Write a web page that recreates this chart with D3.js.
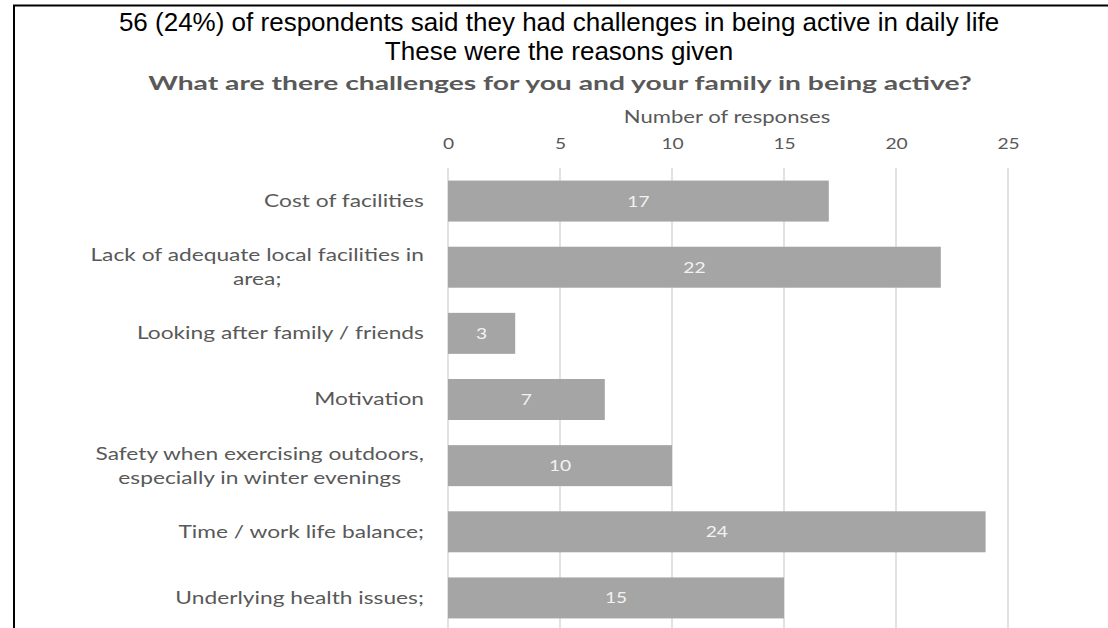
<!DOCTYPE html>
<html><head><meta charset="utf-8">
<script src="https://cdn.jsdelivr.net/npm/d3@7"></script>
<style>body{margin:0;background:#fff}svg{display:block}</style>
</head><body>
<svg id="c" width="1108" height="628"></svg>
<script>
const categories = [
  ["Cost of facilities"],
  ["Lack of adequate local facilities in", "area;"],
  ["Looking after family / friends"],
  ["Motivation"],
  ["Safety when exercising outdoors,", "especially in winter evenings"],
  ["Time / work life balance;"],
  ["Underlying health issues;"]
];
const values = [17, 22, 3, 7, 10, 24, 15];
const tickValues = [0, 5, 10, 15, 20, 25];
const headerLines = ["56 (24%) of respondents said they had challenges in being active in daily life", "These were the reasons given"];
const chartTitle = "What are there challenges for you and your family in being active?";
const axisTitle = "Number of responses";

(function () {
const svg = d3.select("#c");
const W = 1108, H = 628;
const pL = 448, pR = 1008, pT = 168, pB = 631;
const FONT = "Lato, sans-serif";
const x = d3.scaleLinear().domain([0, 25]).range([pL, pR]);
const y = d3.scaleBand().domain(d3.range(categories.length)).range([pT, pB]).paddingInner(0.38).paddingOuter(0.19);

function stretched(parent, tx, ty, sx) {
  return parent.append("g").attr("transform", `translate(${tx},${ty}) scale(${sx},1)`).append("text").attr("x", 0).attr("y", 0);
}

// border
svg.append("line").attr("x1", 13).attr("x2", W).attr("y1", 5.5).attr("y2", 5.5).attr("stroke", "#000").attr("stroke-width", 2);
svg.append("line").attr("x1", 14).attr("x2", 14).attr("y1", 5).attr("y2", H).attr("stroke", "#000").attr("stroke-width", 2);

headerLines.forEach((t, i) => {
  svg.append("text").attr("x", 559).attr("y", 31 + i * 29).attr("text-anchor", "middle")
    .attr("font-family", "Liberation Sans, Arial, sans-serif").attr("font-size", 26).attr("fill", "#000").text(t);
});
stretched(svg, 560, 90, 1.45).attr("text-anchor", "middle")
  .attr("font-family", FONT).attr("font-weight", "bold").attr("font-size", 19.5).attr("fill", "#595959").text(chartTitle);
stretched(svg, 727, 123, 1.3).attr("text-anchor", "middle")
  .attr("font-family", FONT).attr("font-size", 17).attr("fill", "#595959").text(axisTitle);

// grid
svg.append("g").selectAll("line").data(tickValues).join("line")
  .attr("x1", d => x(d)).attr("x2", d => x(d)).attr("y1", pT).attr("y2", H)
  .attr("stroke", "#d9d9d9").attr("stroke-width", 1.5);

// x axis labels
const ax = svg.append("g").attr("transform", `translate(0,${pT})`)
  .call(d3.axisTop(x).tickValues(tickValues).tickSize(0).tickPadding(19));
ax.select(".domain").remove();
ax.selectAll("text").attr("font-family", FONT).attr("font-size", 16).attr("fill", "#595959")
  .attr("transform", "scale(1.2,1)");

// bars
svg.append("g").selectAll("rect").data(values).join("rect")
  .attr("x", x(0)).attr("y", (d, i) => y(i)).attr("width", d => x(d) - x(0)).attr("height", y.bandwidth())
  .attr("fill", "#a5a5a5");

// data labels
const dl = svg.append("g");
values.forEach((v, i) => {
  stretched(dl, (x(0) + x(v)) / 2, y(i) + y.bandwidth() / 2 + 5.5, 1.2)
    .attr("text-anchor", "middle").attr("font-family", FONT).attr("font-size", 16)
    .attr("fill", "#f2f2f2").text(v);
});

// category labels
const cg = svg.append("g");
const SX = 1.3;
categories.forEach((lines, i) => {
  const cy = y(i) + y.bandwidth() / 2;
  const g = cg.append("g");
  const t = g.append("text").attr("text-anchor", "middle").attr("font-family", FONT)
    .attr("font-size", 17.5).attr("fill", "#595959");
  const n = lines.length;
  lines.forEach((l, j) => {
    t.append("tspan").attr("x", 0).attr("y", cy + 6 + (j - (n - 1) / 2) * 24).text(l);
  });
  const bb = t.node().getBBox();
  g.attr("transform", `translate(${424 - bb.width * SX / 2},0) scale(${SX},1)`);
});
})();
</script>
</body></html>
